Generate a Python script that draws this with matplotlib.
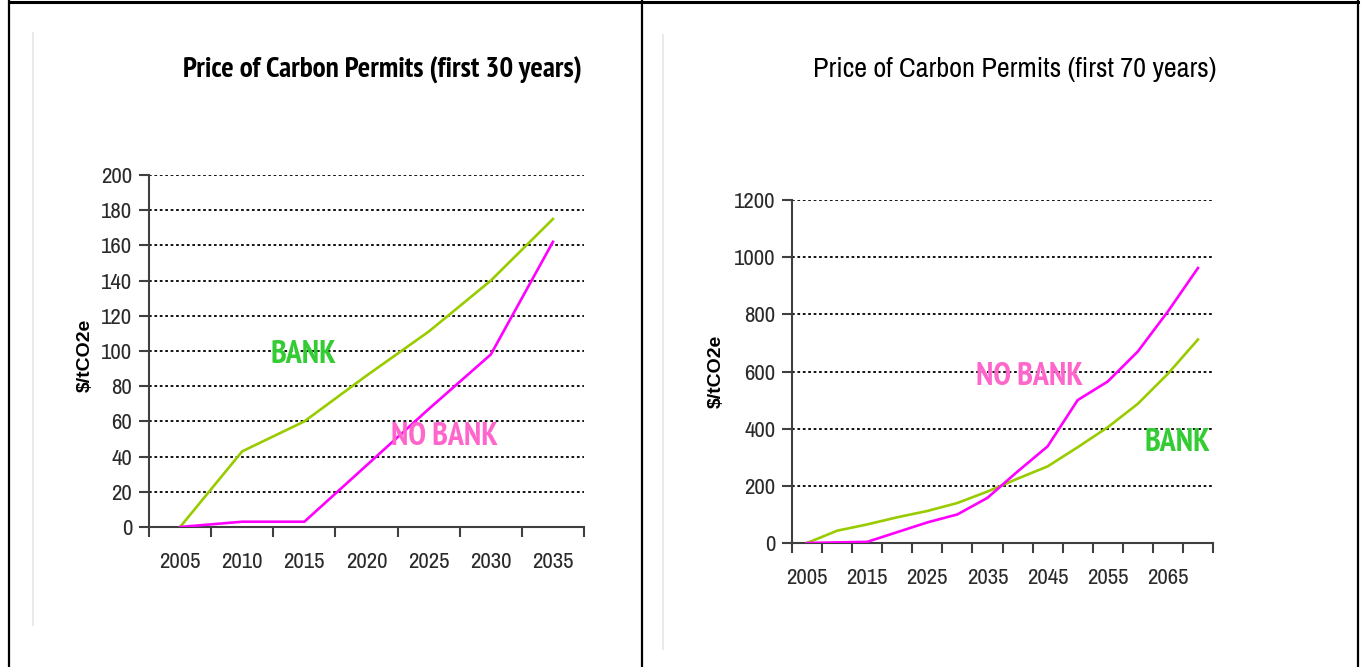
import matplotlib
matplotlib.use("Agg")
from matplotlib import pyplot as plt
from matplotlib import font_manager as fm
from matplotlib.lines import Line2D
from matplotlib.ticker import FixedLocator, NullFormatter, FixedFormatter

W, H = 1366, 667

# left chart: first 30 years (5-year steps)
years_30 = [2005, 2010, 2015, 2020, 2025, 2030, 2035]
bank_30 = [0, 43, 60, 86, 111, 140, 175]
nobank_30 = [0, 3, 3, 35, 67, 98, 162]
yticks_30 = [0, 20, 40, 60, 80, 100, 120, 140, 160, 180, 200]
xlabels_30 = ["2005", "2010", "2015", "2020", "2025", "2030", "2035"]

# right chart: first 70 years (5-year steps)
years_70 = [2005, 2010, 2015, 2020, 2025, 2030, 2035, 2040, 2045, 2050, 2055, 2060, 2065, 2070]
bank_70 = [0, 43, 65, 90, 112, 140, 180, 225, 268, 335, 405, 487, 592, 712]
nobank_70 = [0, 2, 4, 38, 72, 100, 158, 250, 338, 500, 565, 670, 810, 962]
yticks_70 = [0, 200, 400, 600, 800, 1000, 1200]
xlabels_70 = ["2005", "2015", "2025", "2035", "2045", "2055", "2065"]

LINE_GREEN = "#99cc00"
LINE_PINK = "#ff00ff"
TXT_GREEN = "#33cc33"
TXT_PINK = "#ff66cc"

# pick an Arial Narrow look-alike that also has a bold face
weights = {}
for f in fm.fontManager.ttflist:
    if f.style == "normal":
        w = f.weight if isinstance(f.weight, int) else 400
        weights.setdefault(f.name, set()).add(w)
narrow_candidates = ["Liberation Sans Narrow", "Arial Narrow", "Archivo Narrow", "PT Sans Narrow",
                     "Roboto Condensed", "Pragati Narrow", "Fira Sans Condensed",
                     "IBM Plex Sans Condensed", "Encode Sans Condensed", "Barlow Condensed"]
with_bold = [n for n in narrow_candidates if n in weights and max(weights[n]) >= 700]
plain = [n for n in narrow_candidates if n in weights]
NARROW_B = (with_bold or plain)[:1] + ["DejaVu Sans"]
NARROW = plain[:1] + ["DejaVu Sans"]
SANS = ["Liberation Sans", "DejaVu Sans"]


def px(x, y):
    return x / W, 1 - y / H


def make_axes(fig, left, top, right, bottom):
    return fig.add_axes([left / W, 1 - bottom / H, (right - left) / W, (bottom - top) / H])


def style_axes(ax, ymax, yticks, step_labels, xlabels, x_end):
    ax.set_xlim(2002.5, x_end)
    ax.set_ylim(0, ymax)
    for s in ["top", "right"]:
        ax.spines[s].set_visible(False)
    for s in ["left", "bottom"]:
        ax.spines[s].set_color("#404040")
        ax.spines[s].set_linewidth(1.5)
    ax.set_yticks(yticks)
    ax.set_yticklabels([str(v) for v in yticks], fontsize=16.5, color="#2a2a2a", family=NARROW)
    ax.tick_params(axis="y", length=7, width=1.5, color="#404040", pad=5)
    # boundaries between categories get tick marks, labels sit in the middle
    bounds = [2002.5 + 5 * k for k in range(int((x_end - 2002.5) / 5) + 1)]
    ax.xaxis.set_major_locator(FixedLocator(bounds))
    ax.xaxis.set_major_formatter(NullFormatter())
    ax.xaxis.set_minor_locator(FixedLocator(step_labels))
    ax.xaxis.set_minor_formatter(FixedFormatter(xlabels))
    ax.tick_params(axis="x", which="major", length=7, width=1.5, color="#404040")
    ax.tick_params(axis="x", which="minor", length=0, pad=18, labelsize=16.5, labelcolor="#2a2a2a")
    for lab in ax.get_xticklabels(minor=True):
        lab.set_family(NARROW)
    for v in yticks[1:]:
        ax.axhline(v, color="black", lw=1.3, ls=(0, (1.5, 1.5)), zorder=1)


fig = plt.figure(figsize=(W / 100, H / 100), dpi=100)

# left chart
ax1 = make_axes(fig, 149, 175, 584, 527)
style_axes(ax1, 200, yticks_30, years_30, xlabels_30, 2037.5)
ax1.plot(years_30, bank_30, color=LINE_GREEN, lw=1.9, zorder=3)
ax1.plot(years_30, nobank_30, color=LINE_PINK, lw=1.9, zorder=3)
ax1.text(2014.9, 98, "BANK", color=TXT_GREEN, fontsize=23, fontweight="bold",
         family=NARROW_B, ha="center", va="center")
ax1.text(2026.3, 51, "NO BANK", color=TXT_PINK, fontsize=23, fontweight="bold",
         family=NARROW_B, ha="center", va="center")

# right chart
ax2 = make_axes(fig, 792, 200, 1213, 543)
style_axes(ax2, 1200, yticks_70, years_70[::2], xlabels_70, 2072.5)
ax2.plot(years_70, bank_70, color=LINE_GREEN, lw=1.9, zorder=3)
ax2.plot(years_70, nobank_70, color=LINE_PINK, lw=1.9, zorder=3)
ax2.text(2042, 581, "NO BANK", color=TXT_PINK, fontsize=23, fontweight="bold",
         family=NARROW_B, ha="center", va="center")
ax2.text(2066.5, 351, "BANK", color=TXT_GREEN, fontsize=23, fontweight="bold",
         family=NARROW_B, ha="center", va="center")

# titles and axis labels
fig.text(*px(382, 70), "Price of Carbon Permits (first 30 years)", fontsize=21,
         fontweight="bold", family=NARROW_B, ha="center", va="center")
fig.text(*px(1015, 70), "Price of Carbon Permits (first 70 years)", fontsize=20.3,
         family=NARROW, ha="center", va="center")
fig.text(*px(85, 355), "$/tCO2e", fontsize=14, fontweight="bold", rotation=90,
         ha="center", va="center", family=SANS)
fig.text(*px(716, 371), "$/tCO2e", fontsize=14, fontweight="bold", rotation=90,
         ha="center", va="center", family=SANS)

# faint chart-area edges and the black frame
fig.add_artist(Line2D([33 / W, 33 / W], [1 - 33 / H, 1 - 625 / H], color="#e6e6e6", lw=1.2))
fig.add_artist(Line2D([663 / W, 663 / W], [1 - 35 / H, 1 - 649 / H], color="#e6e6e6", lw=1.2))
for xv in [9, 642, 1358]:
    fig.add_artist(Line2D([xv / W, xv / W], [0, 1], color="black", lw=1.6))
fig.add_artist(Line2D([9 / W, 1358 / W], [1 - 1.5 / H, 1 - 1.5 / H], color="black", lw=2.2))

fig.savefig("out.png", dpi=100)
